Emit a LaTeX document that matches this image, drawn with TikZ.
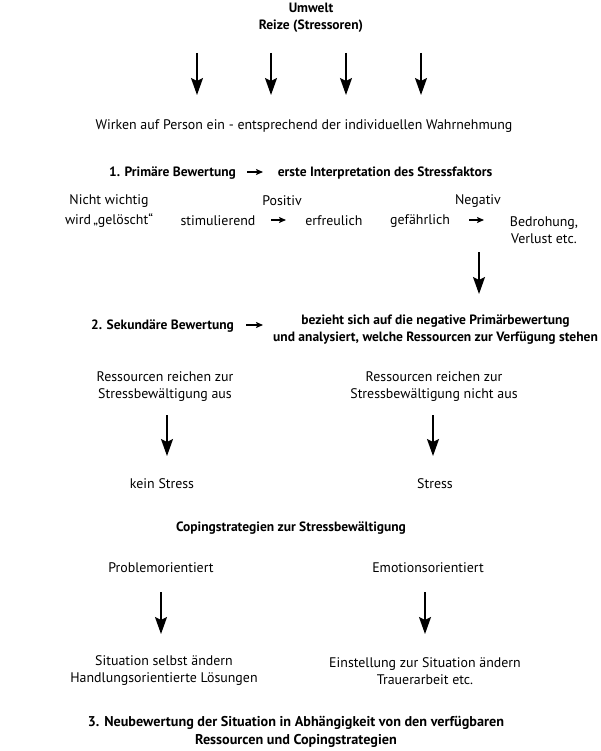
\documentclass[tikz,border=0pt]{standalone}
\usepackage{fontspec}
\setmainfont{PT Sans}
\usetikzlibrary{arrows.meta}
\begin{document}
\begin{tikzpicture}[x=1pt,y=-1pt,
  lbl/.style={anchor=center, inner sep=0pt, align=center, font=\fontsize{13.9}{17}\selectfont},
  hd/.style={lbl, font=\fontsize{13.5}{17}\selectfont\bfseries},
  bigarrow/.style={line width=1.8pt, -{Stealth[length=17pt,width=12pt,inset=3pt]}},
  smallarrow/.style={line width=1.2pt, -{Stealth[length=7pt,width=6pt,inset=1.5pt]}}]
\useasboundingbox (0,0) rectangle (600,751);
% top
\node[hd] (umwelt) at (311,17.5) {Umwelt\\Reize (Stressoren)};
\foreach \i/\x in {1/197,2/271,3/346,4/421}{
  \coordinate (as\i) at (\x,53);
  \coordinate (ae\i) at (\x,95);
  \draw[bigarrow] (as\i) -- (ae\i);
}
\node[lbl] (wirken) at (304,126) {Wirken auf Person ein - entsprechend der individuellen Wahrnehmung};
% primary
\node[hd] (prim) at (172.5,173) {1. Primäre Bewertung};
\node[hd] (interp) at (385,173) {erste Interpretation des Stressfaktors};
\coordinate (pa1) at (247,172); \coordinate (pa2) at (263,172);
\draw[smallarrow] (pa1) -- (pa2);
\node[lbl] (nicht) at (109,201) {Nicht wichtig};
\node[lbl] (positiv) at (282,201) {Positiv};
\node[lbl] (negativ) at (478,201) {Negativ};
\node[lbl] (geloescht) at (109,221) {wird\,„gelöscht“};
\node[lbl] (stim) at (218,221) {stimulierend};
\node[lbl] (erfr) at (334,221) {erfreulich};
\node[lbl] (gef) at (420,221) {gefährlich};
\node[lbl] (bedr) at (544,230.5) {Bedrohung,\\Verlust etc.};
\coordinate (ra1) at (271,220); \coordinate (ra2) at (286,220);
\draw[smallarrow] (ra1) -- (ra2);
\coordinate (ga1) at (469,220); \coordinate (ga2) at (484,220);
\draw[smallarrow] (ga1) -- (ga2);
\coordinate (na1) at (479,252); \coordinate (na2) at (479,294);
\draw[bigarrow] (na1) -- (na2);
% secondary
\node[hd] (sek) at (162.5,326) {2. Sekundäre Bewertung};
\coordinate (sa1) at (246,325); \coordinate (sa2) at (263,325);
\draw[smallarrow] (sa1) -- (sa2);
\node[hd] (bez) at (435.5,329.5) {bezieht sich auf die negative Primärbewertung\\und analysiert, welche Ressourcen zur Verfügung stehen};
\node[lbl] (resL) at (165,386.5) {Ressourcen reichen zur\\Stressbewältigung aus};
\node[lbl] (resR) at (434,386.5) {Ressourcen reichen zur\\Stressbewältigung nicht aus};
\coordinate (la1) at (167,415); \coordinate (la2) at (167,456);
\draw[bigarrow] (la1) -- (la2);
\coordinate (rb1) at (433,415); \coordinate (rb2) at (433,456);
\draw[bigarrow] (rb1) -- (rb2);
\node[lbl] (kein) at (162,484) {kein Stress};
\node[lbl] (stress) at (435,484) {Stress};
% coping
\node[hd] (coping) at (291,528) {Copingstrategien zur Stressbewältigung};
\node[lbl] (prob) at (161,568) {Problemorientiert};
\node[lbl] (emo) at (428,568) {Emotionsorientiert};
\coordinate (pc1) at (161,592); \coordinate (pc2) at (161,634);
\draw[bigarrow] (pc1) -- (pc2);
\coordinate (ec1) at (425,592); \coordinate (ec2) at (425,634);
\draw[bigarrow] (ec1) -- (ec2);
\node[lbl] (sit) at (164,671) {Situation selbst ändern\\Handlungsorientierte Lösungen};
\node[lbl] (einst) at (425,671) {Einstellung zur Situation ändern\\Trauerarbeit etc.};
\node[hd, font=\fontsize{14.2}{17.5}\selectfont\bfseries] (neu) at (296,732) {3. Neubewertung der Situation in Abhängigkeit von den verfügbaren\\Ressourcen und Copingstrategien};
\end{tikzpicture}
\end{document}
